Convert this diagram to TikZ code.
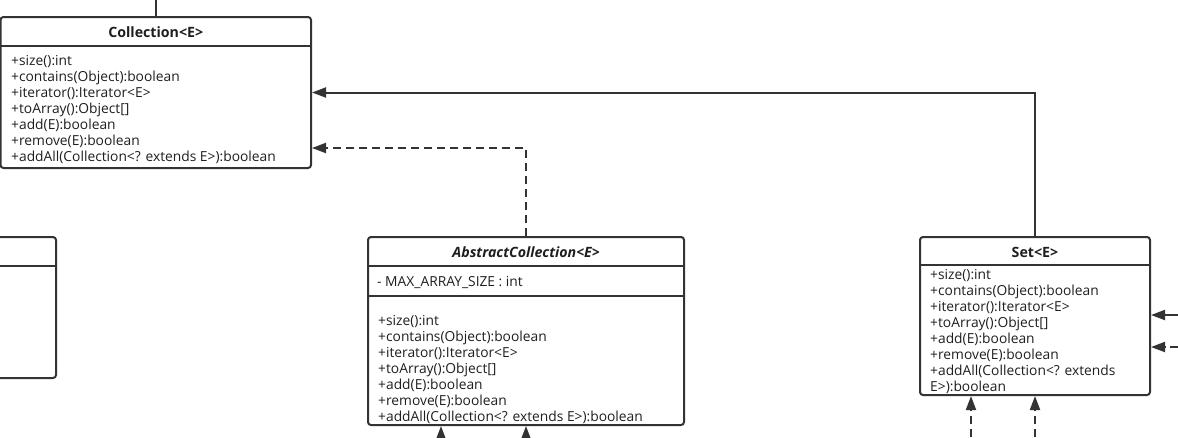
\documentclass[tikz,border=0pt]{standalone}
\usepackage{fontspec}
\setmainfont{Open Sans}
\usepackage{tikz}
\usetikzlibrary{
  arrows.meta,
  positioning,
  calc
}
\definecolor{umlline}{HTML}{333333}
\definecolor{umltext}{HTML}{1E1E1E}

\begin{document}
\begin{tikzpicture}[x=1pt, y=-1pt,
  cls/.style={draw=umlline, line width=2pt, rounded corners=3pt, inner sep=0pt},
  title/.style={font=\fontsize{14.2}{16}\selectfont\bfseries, text=umltext},
  members/.style={font=\fontsize{13.8}{16}\selectfont, text=umltext, align=left,
                  anchor=west, inner sep=0pt},
  sep/.style={draw=umlline, line width=2pt},
  arrow/.style={-{Triangle[length=14pt, width=10pt]}, draw=umlline, line width=2pt},
  dasharrow/.style={arrow, dash pattern=on 8pt off 5pt},
]
  \useasboundingbox (0,0) rectangle (1178,437);
  \clip (0,0) rectangle (1178,437);

  % Collection
  \node[cls, minimum width=310.5pt, minimum height=151pt] (coll) at (155.75,92.5) {};
  \node[title] (colltitle) at ($(coll.north)+(0,16)$) {Collection<E>};
  \draw[sep] ($(coll.north west)+(0,30)$) -- ($(coll.north east)+(0,30)$);
  \node[members] (collops) at ($(coll.north west)+(11.5,93.5)$)
    {+size():int\\+contains(Object):boolean\\+iterator():Iterator<E>\\+toArray():Object[]\\
     +add(E):boolean\\+remove(E):boolean\\+addAll(Collection<? extends E>):boolean};
  \coordinate (ctop) at (155.75,0);
  \draw[sep] (ctop) -- (coll.north);

  % left neighbour (cut off)
  \node[cls, minimum width=76pt, minimum height=141pt] (left) at (18,307.5) {};
  \draw[sep] ($(left.north west)+(0,30)$) -- ($(left.north east)+(0,30)$);

  % AbstractCollection
  \node[cls, minimum width=316pt, minimum height=188pt] (abs) at (526,331) {};
  \node[title, font=\fontsize{14.2}{16}\selectfont\bfseries\itshape] (abstitle)
    at ($(abs.north)+(0,16)$) {AbstractCollection<E>};
  \draw[sep] ($(abs.north west)+(0,30)$) -- ($(abs.north east)+(0,30)$);
  \draw[sep] ($(abs.north west)+(0,60)$) -- ($(abs.north east)+(0,60)$);
  \node[members] (absattr) at ($(abs.north west)+(10,46.5)$) {- MAX\_ARRAY\_SIZE : int};
  \node[members] (absops) at ($(abs.north west)+(11,133.5)$)
    {+size():int\\+contains(Object):boolean\\+iterator():Iterator<E>\\+toArray():Object[]\\
     +add(E):boolean\\+remove(E):boolean\\+addAll(Collection<? extends E>):boolean};

  % Set
  \node[cls, minimum width=230pt, minimum height=158pt] (set) at (1035,316) {};
  \node[title] (settitle) at ($(set.north)+(0,16)$) {Set<E>};
  \draw[sep] ($(set.north west)+(0,29)$) -- ($(set.north east)+(0,29)$);
  \node[members] (setops) at ($(set.north west)+(11,95.5)$)
    {+size():int\\+contains(Object):boolean\\+iterator():Iterator<E>\\+toArray():Object[]\\
     +add(E):boolean\\+remove(E):boolean\\+addAll(Collection<? extends\\E>):boolean};

  % connectors to Collection
  \draw[arrow] (set.north) |- (coll.east);
  \draw[dasharrow] (abs.north) |- ([yshift=-55.5pt]coll.east);

  % connectors from below / right (cut off)
  \coordinate (absin1) at (441,437);
  \coordinate (absin2) at (526,437);
  \draw[arrow] (absin1) -- (absin1 |- abs.south);
  \draw[arrow] (absin2) -- (absin2 |- abs.south);

  \coordinate (setin1) at (971,437);
  \coordinate (setin2) at (1035,437);
  \draw[dasharrow] (setin1) -- (setin1 |- set.south);
  \draw[dasharrow] (setin2) -- (setin2 |- set.south);

  \coordinate (setr1) at (1178,315);
  \coordinate (setr2) at (1178,347);
  \draw[arrow] (setr1) -- (setr1 -| set.east);
  \draw[dasharrow] (setr2) -- (setr2 -| set.east);
\end{tikzpicture}
\end{document}
